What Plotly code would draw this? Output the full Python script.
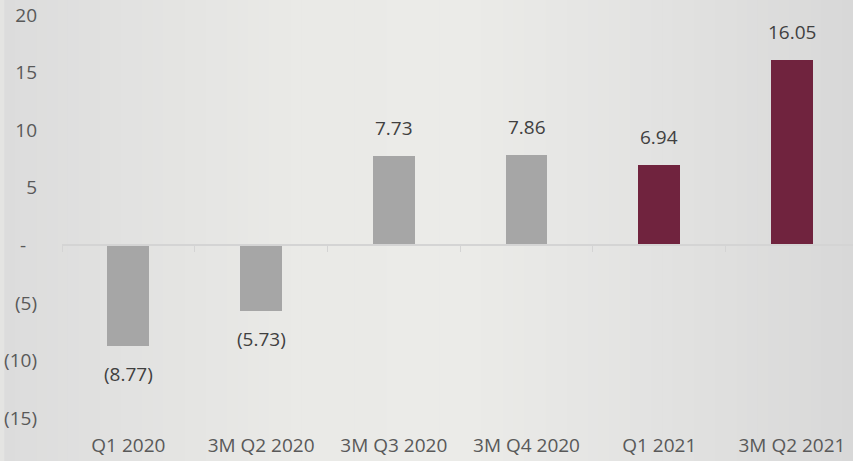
import plotly.graph_objects as go

# Quarterly values (negative figures shown in parentheses)
categories = ["Q1 2020", "3M Q2 2020", "3M Q3 2020", "3M Q4 2020", "Q1 2021", "3M Q2 2021"]
values = [-8.77, -5.73, 7.73, 7.86, 6.94, 16.05]
bar_colors = ["#a6a6a6", "#a6a6a6", "#a6a6a6", "#a6a6a6", "#70233e", "#70233e"]
y_ticks = [20, 15, 10, 5, 0, -5, -10, -15]
y_tick_text = ["20", "15", "10", "5", "-\u2007", "(5)", "(10)", "(15)"]


def fmt(v):
    return f"({abs(v):.2f})" if v < 0 else f"{v:.2f}"


def lerp_hex(c1, c2, t):
    a = [int(c1[i:i + 2], 16) for i in (1, 3, 5)]
    b = [int(c2[i:i + 2], 16) for i in (1, 3, 5)]
    return "#" + "".join(f"{round(x + (y - x) * t):02x}" for x, y in zip(a, b))


x_pos = list(range(len(categories)))
x_range = [-0.5, 5.46]
y_range = [-15, 20]

fig = go.Figure()
fig.add_trace(go.Bar(
    x=x_pos, y=values, marker=dict(color=bar_colors, line=dict(width=0)),
    width=0.315, hoverinfo="skip", showlegend=False,
))

# Smooth horizontal background shading: darker edges, lighter middle
keys = [(0.0, "#dcdcdc"), (0.35, "#eaeae7"), (0.55, "#ebebe8"), (0.78, "#e2e2e1"), (1.0, "#d8d8d8")]
n = 80
for i in range(n):
    t = (i + 0.5) / n
    for (t0, c0), (t1, c1) in zip(keys[:-1], keys[1:]):
        if t0 <= t <= t1:
            col = lerp_hex(c0, c1, (t - t0) / (t1 - t0))
            break
    x0 = -0.073 + i * 1.073 / n
    fig.add_shape(type="rect", xref="paper", yref="paper",
                  x0=x0, x1=x0 + 1.073 / n + 0.002,
                  y0=-0.2, y1=1.1, fillcolor=col, line=dict(width=0), layer="below")

annotations = []
for xi, v in zip(x_pos, values):
    annotations.append(dict(
        x=xi, y=v, xref="x", yref="y", text=fmt(v), showarrow=False,
        yanchor="bottom" if v >= 0 else "top",
        yshift=13 if v >= 0 else -13,
        font=dict(family="Open Sans", size=19, color="#404040"),
    ))

zero_frac = (0 - y_range[0]) / (y_range[1] - y_range[0])

fig.update_layout(
    width=853, height=461,
    margin=dict(l=62, r=0, t=15, b=43),
    paper_bgcolor="#e4e4e2", plot_bgcolor="rgba(0,0,0,0)",
    bargap=0,
    annotations=annotations,
    xaxis=dict(
        range=x_range, tickvals=x_pos, ticktext=categories,
        showgrid=False, zeroline=False, showline=False, ticks="",
        ticklabelstandoff=14,
        tickfont=dict(family="Open Sans", size=19, color="#595959"),
    ),
    xaxis2=dict(
        range=x_range, overlaying="x", anchor="free", position=zero_frac,
        showline=True, linecolor="#d4d4d4", linewidth=2,
        ticks="outside", ticklen=6, tickwidth=1, tickcolor="#d4d4d4",
        tickvals=[i - 0.5 for i in range(len(categories) + 1)],
        showticklabels=False, showgrid=False, zeroline=False,
    ),
    yaxis=dict(
        range=y_range, tickvals=y_ticks, ticktext=y_tick_text,
        showgrid=False, zeroline=False, showline=False, ticks="",
        ticklabelstandoff=24,
        tickfont=dict(family="Open Sans", size=19, color="#595959"),
    ),
)

# Invisible trace so the overlaid zero-line axis is drawn
fig.add_trace(go.Scatter(x=[x_range[0]], y=[0], xaxis="x2", mode="markers",
                         marker=dict(opacity=0), hoverinfo="skip", showlegend=False))

fig.write_html("out.html")
